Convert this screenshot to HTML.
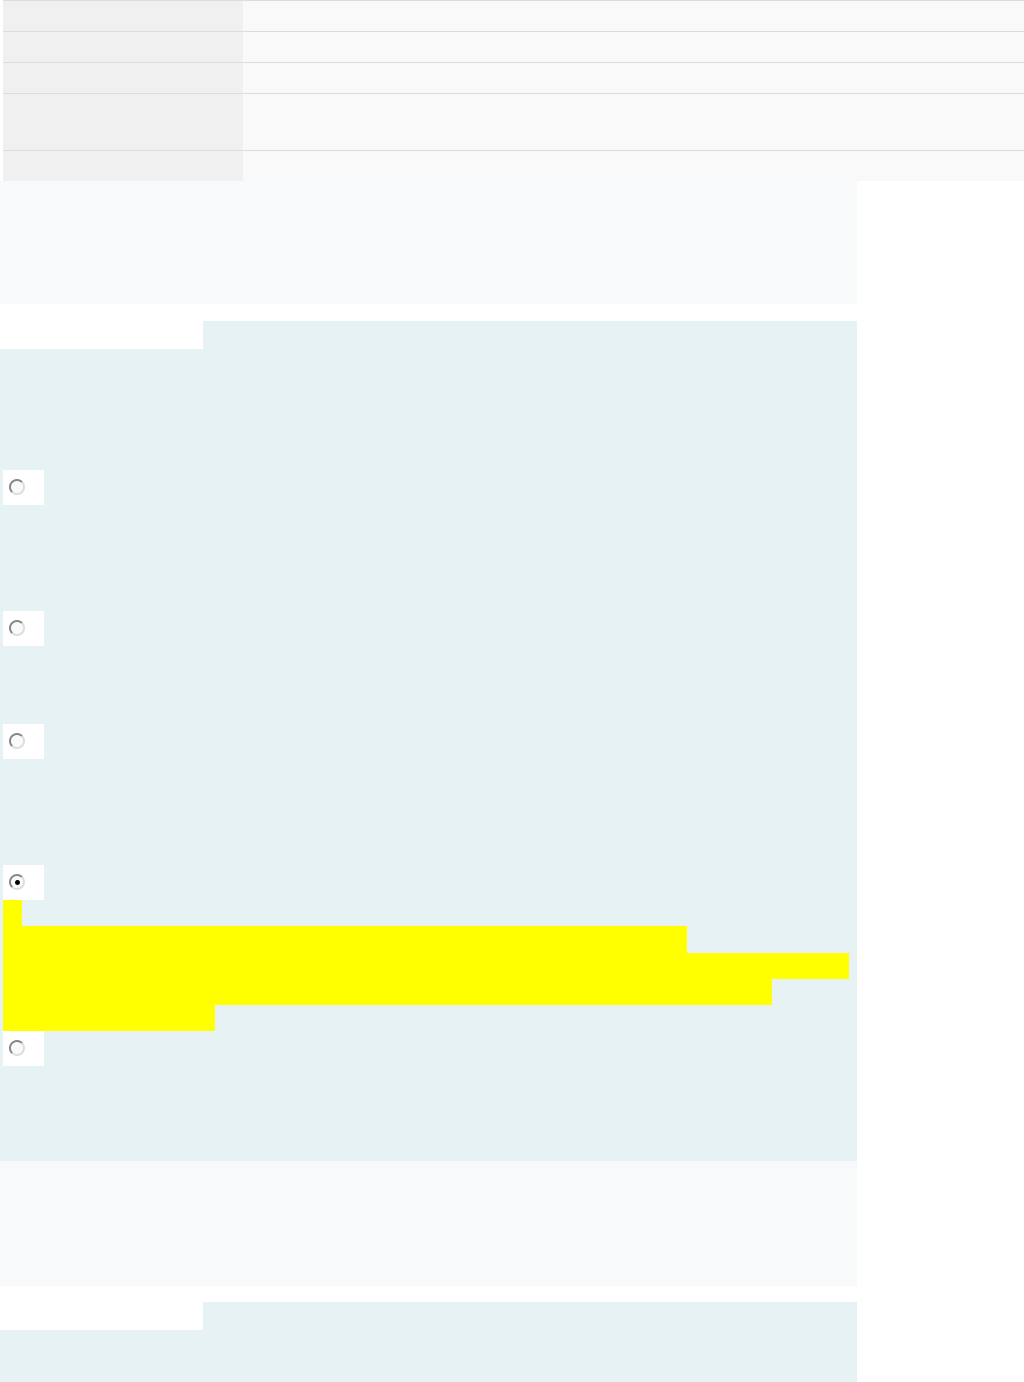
<!DOCTYPE html>
<html><head><meta charset="utf-8"><style>
html,body{margin:0;padding:0;width:1024px;height:1382px;background:#fff;position:relative;overflow:hidden;font-family:"Liberation Sans",sans-serif}
div{position:absolute;box-sizing:border-box}
.l{background:#f0f0f0;left:3px;width:240px}
.r{background:#f9f9f9;left:243px;width:781px}
.b{left:3px;width:1021px;height:1px;background:#dcdce4}
.g{background:#f7f9fa;left:0;width:857px}
.t{background:#e7f2f4}
.rb{background:#fff;left:3px;width:41px;height:35px}
.rc{left:6px;top:9px;width:16px;height:16px;border-radius:50%;border:2px solid #888;border-right-color:#ddd;border-bottom-color:#ddd;background:#fafafa}
.dot{left:4px;top:4px;width:5px;height:5px;border-radius:50%;background:#000}
.y{background:#ffff00;left:3px}
</style></head><body>
<div class="l" style="top:0;height:181px"></div>
<div class="r" style="top:0;height:181px"></div>
<div class="b" style="top:0"></div>
<div class="b" style="top:31px"></div>
<div class="b" style="top:62px"></div>
<div class="b" style="top:93px"></div>
<div class="b" style="top:150px"></div>
<div class="g" style="top:181px;height:123px"></div>
<div class="t" style="left:203px;top:321px;width:654px;height:28px"></div>
<div class="t" style="left:0;top:349px;width:857px;height:812px"></div>
<div class="rb" style="top:470px"><div class="rc"></div></div>
<div class="rb" style="top:611px"><div class="rc"></div></div>
<div class="rb" style="top:724px"><div class="rc"></div></div>
<div class="rb" style="top:865px"><div class="rc"><div class="dot"></div></div></div>
<div class="y" style="top:900px;width:19px;height:26px"></div>
<div class="y" style="top:926px;width:684px;height:27px"></div>
<div class="y" style="top:953px;width:846px;height:26px"></div>
<div class="y" style="top:979px;width:769px;height:26px"></div>
<div class="y" style="top:1005px;width:212px;height:26px"></div>
<div class="rb" style="top:1031px"><div class="rc"></div></div>
<div class="g" style="top:1161px;height:125px"></div>
<div class="t" style="left:203px;top:1302px;width:654px;height:28px"></div>
<div class="t" style="left:0;top:1330px;width:857px;height:52px"></div>
</body></html>
